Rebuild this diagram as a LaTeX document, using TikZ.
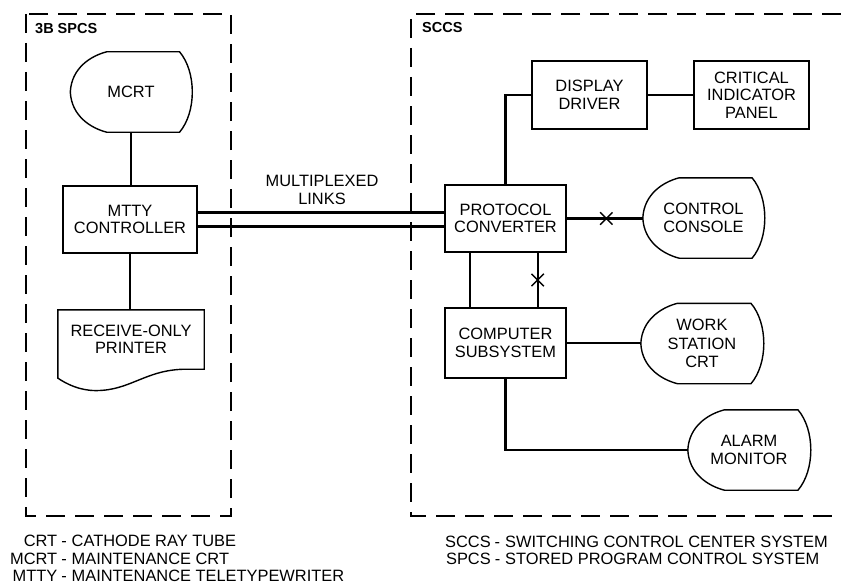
\documentclass[tikz,border=0pt]{standalone}
\usepackage{fontspec}
\setmainfont{Liberation Sans}
\usetikzlibrary{calc,shapes.misc}

\newcommand{\crtoutline}[1]{%
\draw[outline] let \p1=(#1.north west),\p2=(#1.south east),\n1={\x2-\x1},\n2={\y1-\y2} in
 (\x1,{\y2+0.5*\n2}) .. controls ({\x1+0.01*\n1},{\y1-0.2*\n2}) and ({\x1+0.17*\n1},{\y1-0.05*\n2}) .. ({\x1+0.3*\n1},\y1)
 -- ({\x1+0.9*\n1},\y1) .. controls ({\x1+1.04*\n1},{\y1-0.25*\n2}) and ({\x1+1.04*\n1},{\y2+0.25*\n2}) .. ({\x1+0.9*\n1},\y2)
 -- ({\x1+0.3*\n1},\y2) .. controls ({\x1+0.17*\n1},{\y2+0.05*\n2}) and ({\x1+0.01*\n1},{\y2+0.2*\n2}) .. cycle;}
\newcommand{\prnoutline}[1]{%
\draw[outline] let \p1=(#1.north west),\p2=(#1.south east),\n1={\x2-\x1},\n2={\y1-\y2} in
 (\x1,\y1) -- (\x2,\y1) -- (\x2,\y2) -- ({\x1+0.88*\n1},\y2)
 .. controls ({\x1+0.6*\n1},\y2) and ({\x1+0.5*\n1},{\y2-0.36*\n2}) .. ({\x1+0.26*\n1},{\y2-0.36*\n2})
 .. controls ({\x1+0.15*\n1},{\y2-0.36*\n2}) and ({\x1+0.06*\n1},{\y2-0.25*\n2}) .. (\x1,{\y2-0.15*\n2}) -- cycle;}

\begin{document}
\begin{tikzpicture}[x=1pt,y=-1pt,every node/.style={font=\fontsize{16.4}{17.5}\selectfont,align=center},
 blockbox/.style={draw,line width=1.4pt,minimum width=121pt,minimum height=67pt,inner sep=2pt},
 crtbox/.style={minimum width=121pt,minimum height=80pt,inner sep=2pt},
 outline/.style={line width=1.4pt},
 link/.style={line width=2.2pt},
 frame/.style={line width=1.5pt,dash pattern=on 19pt off 10pt},
 xmark/.style={draw,cross out,line width=1.4pt,minimum size=11pt,inner sep=0pt},
 tag/.style={font=\fontsize{14.5}{16}\selectfont\bfseries,inner sep=0pt,anchor=base west}]
\useasboundingbox (0,0) rectangle (841,586);

% system frames
\draw[frame] (26,14) rectangle (231,516);
\draw[frame] (841,14) -- (411,14) -- (411,516) -- (841,516);
\node[tag](spcs) at (35,34) {3B SPCS};
\node[tag](sccs) at (422,33) {SCCS};

% 3B SPCS
\node[crtbox](mcrt) at (131,92) {MCRT};
\node[blockbox,minimum width=134pt](mtty) at (130,219.5) {MTTY\\CONTROLLER};
\node[minimum width=146pt,minimum height=59pt,inner sep=2pt](prn) at (131,339.5) {RECEIVE-ONLY\\PRINTER};
\crtoutline{mcrt}
\prnoutline{prn}
\draw[link](mcrt.south)--(mcrt.south |- mtty.north); \draw[link](mtty.south)--(mtty.south |- prn.north);

% SCCS
\node[blockbox](pc) at (505.5,218.5) {PROTOCOL\\CONVERTER};
\node[blockbox,minimum height=70pt](cs) at (505.5,343) {COMPUTER\\SUBSYSTEM};
\node[blockbox,minimum width=115pt,minimum height=68pt](dd) at (589.5,95) {DISPLAY\\DRIVER};
\node[blockbox,minimum width=115pt,minimum height=68pt](cip) at (751.5,95) {CRITICAL\\INDICATOR\\PANEL};
\node[crtbox](con) at (703.5,218) {CONTROL\\CONSOLE};
\node[crtbox,minimum width=122pt,font=\fontsize{16.4}{18.5}\selectfont](wks) at (702,343.5) {WORK\\STATION\\CRT};
\node[crtbox,minimum width=122pt](alm) at (749,450) {ALARM\\MONITOR};
\crtoutline{con} \crtoutline{wks} \crtoutline{alm}

% multiplexed links
\node(mux) at (322,190) {MULTIPLEXED\\LINKS};
\coordinate(la) at ([yshift=7pt]mtty.east); \coordinate(lb) at ([yshift=-7pt]mtty.east);
\draw[link](la)--(la -| pc.west); \draw[link](lb)--(lb -| pc.west);

\draw[link](pc.north) |- (dd.west); \draw[link](dd.east)--(cip.west);
\draw[link](pc.east)--node[xmark,pos=0.52]{}(pc.east -| con.west);
\draw[link]([xshift=26pt]pc.south west)--([xshift=26pt]cs.north west);
\draw[link]([xshift=-29pt]pc.south east)--node[xmark]{}([xshift=-29pt]cs.north east);
\draw[link](cs.east)--(cs.east -| wks.west);
\draw[link](cs.south) |- (alm.west);

% abbreviations
\node[anchor=north west,inner sep=0pt,align=left](abbl) at (10,534.5) {\begin{tabular}{@{}r@{\hspace{4pt}-\hspace{5pt}}l@{}}CRT&CATHODE RAY TUBE\\MCRT&MAINTENANCE CRT\\MTTY&MAINTENANCE TELETYPEWRITER\end{tabular}};
\node[anchor=north west,inner sep=0pt,align=left](abbr) at (445,535) {\begin{tabular}{@{}r@{\hspace{4pt}-\hspace{5pt}}l@{}}SCCS&SWITCHING CONTROL CENTER SYSTEM\\SPCS&STORED PROGRAM CONTROL SYSTEM\end{tabular}};
\end{tikzpicture}
\end{document}
